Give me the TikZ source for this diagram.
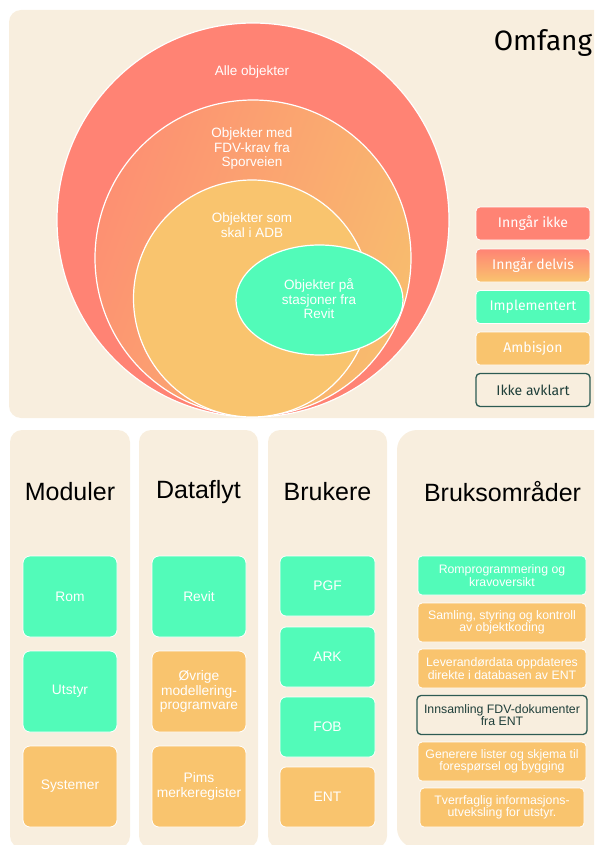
\documentclass[tikz,border=0pt]{standalone}
\usepackage{fontspec}
\setmainfont{Liberation Sans}
\newfontfamily\legfont{Fira Sans}
\definecolor{cream}{HTML}{F8EEDE}
\definecolor{salmon}{HTML}{FF8374}
\definecolor{mint}{HTML}{52FBB9}
\definecolor{amber}{HTML}{F9C46E}
\definecolor{fdva}{HTML}{FD9072}
\definecolor{fdvb}{HTML}{F8BC6E}
\definecolor{tealdark}{HTML}{2D5B53}
\definecolor{tealtext}{HTML}{1F3F3A}
\tikzset{
  panel/.style={fill=cream, rounded corners=12pt},
  circtext/.style={text=white, align=center, font=\fontsize{13.5}{14.5}\selectfont, inner sep=0pt},
  legbox/.style={draw=white, line width=0.8pt, rounded corners=4pt, minimum width=114pt, minimum height=33pt, inner sep=0pt, text=white, font=\legfont\fontsize{14}{16}\selectfont},
  heading/.style={font=\fontsize{25}{28}\selectfont, text=black, inner sep=0pt},
  bigbox/.style={draw=white, line width=0.8pt, rounded corners=7pt, minimum width=94pt, minimum height=81pt, inner sep=0pt, text=white, align=center, font=\fontsize{13.8}{14.5}\selectfont},
  userbox/.style={draw=white, line width=0.8pt, rounded corners=6pt, minimum width=95pt, minimum height=60pt, inner sep=0pt, text=white, align=center, font=\fontsize{13.8}{14.5}\selectfont},
  usebox/.style={draw=white, line width=0.8pt, rounded corners=4pt, minimum width=168pt, minimum height=39pt, inner sep=0pt, text=white, align=center, font=\fontsize{12.3}{12.5}\selectfont},
}
\begin{document}
\begin{tikzpicture}[x=1pt,y=-1pt]
\useasboundingbox (0,0) rectangle (594,845);
\begin{scope}
\clip (0,0) rectangle (594,845);
% panels
\fill[panel] (9,10) rectangle (640,418);
\fill[panel] (10,430) rectangle (130,848);
\fill[panel] (139,430) rectangle (258,848);
\fill[panel] (268,430) rectangle (387,848);
\fill[panel, rounded corners=20pt] (397,430) rectangle (640,848);
% circles
\draw[white, line width=1.2pt, fill=salmon] (253,220) circle[x radius=196pt, y radius=197pt];
\draw[white, line width=1.2pt, left color=fdva, right color=fdvb, shading angle=70] (253,258) circle[radius=158pt];
\draw[white, line width=1.2pt, fill=amber] (252,298.5) circle[radius=118.5pt];
\draw[white, line width=1.2pt, fill=mint] (319.5,300) circle[x radius=83.5pt, y radius=55pt];
\node[circtext] (alle) at (252,72) {Alle objekter};
\node[circtext] (fdv) at (252,149) {Objekter med\\FDV-krav fra\\Sporveien};
\node[circtext] (adb) at (252,225) {Objekter som\\skal i ADB};
\node[circtext] (revit) at (319,299) {Objekter på\\stasjoner fra\\Revit};
% title
\node[font=\legfont\fontsize{28}{30}\selectfont, inner sep=0pt] (omfang) at (543,43) {Omfang};
% legend
\node[legbox, fill=salmon] (l1) at (533,223.5) {Inngår ikke};
\node[legbox, top color=salmon, bottom color=amber] (l2) at (533,265.5) {Inngår delvis};
\node[legbox, fill=mint] (l3) at (533,307) {Implementert};
\node[legbox, fill=amber] (l4) at (533,348.5) {Ambisjon};
\node[legbox, draw=tealdark, line width=1.3pt, fill=cream, text=tealtext] (l5) at (533,390) {Ikke avklart};
% headings
\node[heading] (hmod) at (70,492) {Moduler};
\node[heading] (hdat) at (198.5,492) {Dataflyt};
\node[heading] (hbru) at (327.5,492) {Brukere};
\node[heading] (hbro) at (502.5,492) {Bruksområder};
% Moduler
\node[bigbox, fill=mint] (rom) at (70,596.5) {Rom};
\node[bigbox, fill=mint] (utstyr) at (70,691.5) {Utstyr};
\node[bigbox, fill=amber] (sys) at (70,786.5) {Systemer};
% Dataflyt
\node[bigbox, fill=mint] (rev) at (199,596.5) {Revit};
\node[bigbox, fill=amber] (ovr) at (199,691.5) {Øvrige\\modellering-\\programvare};
\node[bigbox, fill=amber] (pims) at (199,786.5) {Pims\\merkeregister};
% Brukere
\node[userbox, fill=mint] (pgf) at (327.5,586) {PGF};
\node[userbox, fill=mint] (ark) at (327.5,657) {ARK};
\node[userbox, fill=mint] (fob) at (327.5,727) {FOB};
\node[userbox, fill=amber] (ent) at (327.5,797) {ENT};
% Bruksomrader
\node[usebox, fill=mint] (u1) at (502,575.5) {Romprogrammering og\\kravoversikt};
\node[usebox, fill=amber] (u2) at (502,622.5) {Samling, styring og kontroll\\av objektkoding};
\node[usebox, fill=amber] (u3) at (502,668.5) {Leverandørdata oppdateres\\direkte i databasen av ENT};
\node[usebox, draw=tealdark, line width=1.3pt, fill=cream, text=tealtext, minimum width=170pt] (u4) at (502,715) {Innsamling FDV-dokumenter\\fra ENT};
\node[usebox, fill=amber] (u5) at (502,761.5) {Generere lister og skjema til\\forespørsel og bygging};
\node[usebox, fill=amber, minimum width=164pt] (u6) at (502,807.5) {Tverrfaglig informasjons-\\utveksling for utstyr.};
\end{scope}
\end{tikzpicture}
\end{document}
